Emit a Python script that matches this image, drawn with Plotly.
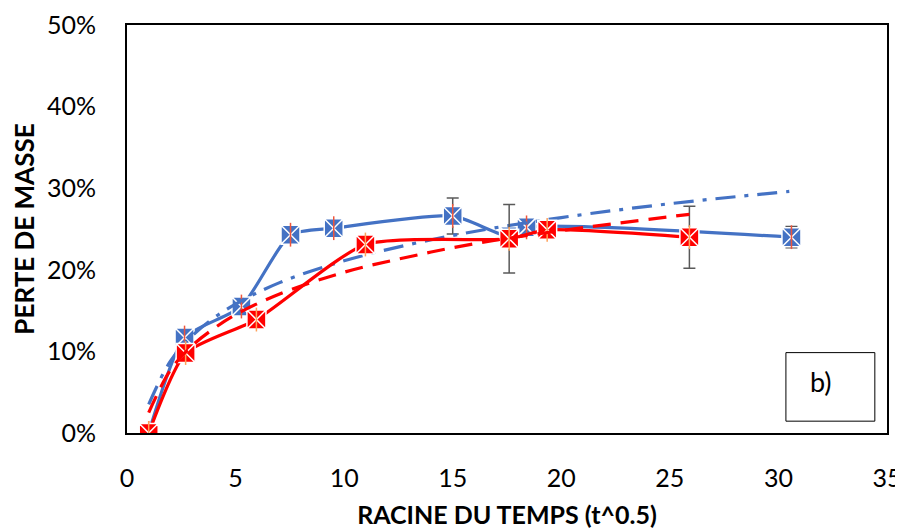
import plotly.graph_objects as go

FONT = "Lato, 'Open Sans', sans-serif"
BLUE = "#4472C4"
RED = "#FF0000"
ERR = "#595959"

# ── Data ──────────────────────────────────────────────────────────────────────
# blue series (measured points, smoothed line)
blue_x = [1.0, 2.65, 5.27, 7.53, 9.52, 15.0, 17.6, 18.4, 30.6]
blue_y = [0.0, 11.7, 15.5, 24.3, 25.1, 26.6, 24.1, 25.2, 24.0]
blue_err = [0, 0, 0, 0, 0, 2.2, 0, 0, 1.3]

# red series
red_x = [1.0, 2.7, 5.96, 10.98, 17.6, 19.35, 25.9]
red_y = [0.0, 9.8, 13.9, 23.1, 23.8, 24.9, 24.0]
red_err = [0, 0, 0, 0, 4.2, 0, 3.8]

# trend lines
blue_trend_x = [1, 2, 3, 4, 5, 7, 10, 13, 16, 20, 25, 30.5]
blue_trend_y = [3.5, 8.8, 11.9, 14.1, 15.8, 18.4, 21.1, 23.1, 24.7, 26.4, 28.1, 29.6]
red_trend_x = [1, 2, 3, 4, 5, 7, 10, 13, 16, 20, 25.9]
red_trend_y = [2.5, 7.7, 10.7, 12.8, 14.5, 17.0, 19.7, 21.6, 23.2, 24.8, 26.8]

fig = go.Figure()


def add_series(xs, ys, errs, color):
    fig.add_trace(go.Scatter(
        x=xs, y=[v / 100 for v in ys],
        mode="lines+markers",
        line=dict(color=color, width=3.2, shape="spline", smoothing=0.6),
        marker=dict(symbol="square-x", size=19, color=color,
                    line=dict(color="white", width=1.5)),
        error_y=dict(type="data", array=[e / 100 for e in errs], visible=True,
                     color=ERR, thickness=1.5, width=6),
        showlegend=False,
    ))
    # vertical stroke to complete the Excel "star" glyph
    fig.add_trace(go.Scatter(
        x=xs, y=[v / 100 for v in ys],
        mode="markers",
        marker=dict(symbol="line-ns-open", size=17,
                    line=dict(color="white", width=1.5)),
        showlegend=False, hoverinfo="skip",
    ))


def add_trend(xs, ys, color, dash):
    fig.add_trace(go.Scatter(
        x=xs, y=[v / 100 for v in ys],
        mode="lines",
        line=dict(color=color, width=3.2, dash=dash, shape="spline"),
        showlegend=False, hoverinfo="skip",
    ))


add_series(blue_x, blue_y, blue_err, BLUE)
add_trend(blue_trend_x, blue_trend_y, BLUE, "20px,9px,4px,9px")
add_series(red_x, red_y, red_err, RED)
add_trend(red_trend_x, red_trend_y, RED, "18px,10px")

# "b)" label box
fig.add_shape(type="rect", xref="paper", yref="paper",
              x0=0.867, x1=0.984, y0=0.029, y1=0.197,
              line=dict(color="black", width=1), fillcolor="white")
fig.add_annotation(xref="paper", yref="paper", x=0.93, y=0.08,
                   text="b)", showarrow=False,
                   font=dict(family=FONT, size=27, color="black"))

# page body adds an 8px offset, so the figure is shrunk to fit the window
fig.update_layout(
    width=895, height=521,
    margin=dict(l=119, r=16, t=17, b=96),
    plot_bgcolor="white", paper_bgcolor="white",
    font=dict(family=FONT, size=25, color="black"),
    xaxis=dict(
        range=[0, 35], tickvals=[0, 5, 10, 15, 20, 25, 30, 35],
        showgrid=False, zeroline=False,
        showline=True, mirror=True, linecolor="black", linewidth=2,
        ticks="", ticklabelstandoff=22, automargin=False,
        ticklabeloverflow="allow",
        title=dict(text="<b>RACINE DU TEMPS (t^0.5)</b>", font=dict(size=25), standoff=16),
    ),
    yaxis=dict(
        range=[0, 0.5], tickvals=[0, 0.1, 0.2, 0.3, 0.4, 0.5], tickformat=".0%",
        showgrid=False, zeroline=False,
        showline=True, mirror=True, linecolor="black", linewidth=2,
        ticks="", ticklabelstandoff=24, automargin=False,
        ticklabeloverflow="allow",
        title=dict(text="<b>PERTE DE MASSE</b>", font=dict(size=26), standoff=19),
    ),
)

fig.write_html("out.html")
